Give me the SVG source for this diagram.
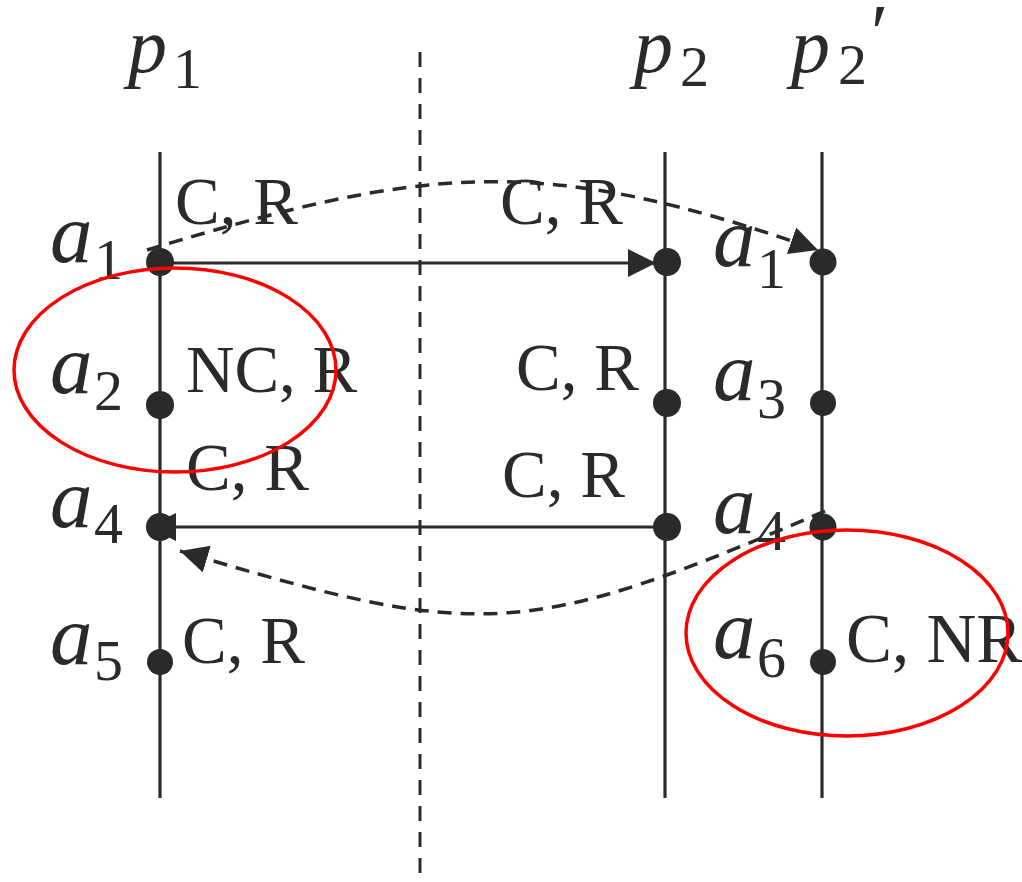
<svg xmlns="http://www.w3.org/2000/svg" width="1022" height="882" viewBox="0 0 1022 882">
<style>
.ln{stroke:#2a2a2a;stroke-width:3.2;fill:none}
.dl{stroke:#2a2a2a;stroke-width:3.5;fill:none;stroke-dasharray:14 9}
.dot{fill:#2a2a2a}
.red{fill:none;stroke:#ff0000;stroke-width:3.5}
.it{font-family:"Liberation Serif",serif;font-style:italic;font-size:85px;fill:#2a2a2a}
.pp{font-family:"Liberation Serif",serif;font-style:italic;font-size:78px;fill:#2a2a2a}
.pr{font-family:"Liberation Serif",serif;font-style:italic;font-size:80px;fill:#2a2a2a}
.sub{font-family:"Liberation Serif",serif;font-size:58px;fill:#2a2a2a}
.lb{font-family:"Liberation Serif",serif;font-size:67px;fill:#2a2a2a}
</style>
<defs>
<marker id="ah" viewBox="0 0 28 28" markerWidth="28" markerHeight="28" refX="28" refY="14" orient="auto" markerUnits="userSpaceOnUse">
<path d="M0,0 L28,14 L0,28 z" fill="#2a2a2a"/>
</marker>
</defs>
<g id="timelines">
<line class="ln" x1="160" y1="152" x2="160" y2="798"/>
<line class="ln" x1="665" y1="152" x2="665" y2="798"/>
<line class="ln" x1="822" y1="152" x2="822" y2="798"/>
<line x1="420" y1="52" x2="420" y2="882" stroke="#2a2a2a" stroke-width="3" stroke-dasharray="15 11"/>
</g>
<g id="connectors">
<line class="ln" x1="160" y1="263" x2="656" y2="263" marker-end="url(#ah)"/>
<line class="ln" x1="665" y1="527" x2="148" y2="527" marker-end="url(#ah)"/>
<path class="dl" d="M147,250 C426,166 539,152 818,250" marker-end="url(#ah)"/>
<path class="dl" d="M825,511 C525,640 480,641 180,551" marker-end="url(#ah)"/>
</g>
<g id="p1-events">
<circle class="dot" cx="160" cy="262" r="14"/>
<circle class="dot" cx="160" cy="405" r="14"/>
<circle class="dot" cx="160" cy="527" r="14"/>
<circle class="dot" cx="160" cy="662" r="13"/>
</g>
<g id="p2-events">
<circle class="dot" cx="667" cy="262" r="14"/>
<circle class="dot" cx="667" cy="403" r="14"/>
<circle class="dot" cx="667" cy="527" r="14"/>
</g>
<g id="p2prime-events">
<circle class="dot" cx="823" cy="262" r="13.5"/>
<circle class="dot" cx="823" cy="403" r="13"/>
<circle class="dot" cx="823" cy="527" r="13.5"/>
<circle class="dot" cx="823" cy="662" r="13"/>
</g>
<g id="process-labels">
<text class="pp" x="128" y="72">p</text><text class="sub" x="173" y="88">1</text>
<text class="pp" x="634" y="72">p</text><text class="sub" x="680" y="86">2</text>
<text class="pp" x="791" y="72">p</text><text class="sub" x="838" y="84">2</text>
<text class="pr" x="866" y="60">′</text>
</g>
<g id="event-labels">
<text class="it" x="50" y="262">a</text><text class="sub" x="94" y="279">1</text>
<text class="it" x="50" y="393">a</text><text class="sub" x="94" y="410">2</text>
<text class="it" x="50" y="527">a</text><text class="sub" x="94" y="543">4</text>
<text class="it" x="50" y="664">a</text><text class="sub" x="94" y="680">5</text>
<text class="it" x="713" y="266">a</text><text class="sub" x="757" y="288">1</text>
<text class="it" x="713" y="400">a</text><text class="sub" x="757" y="418">3</text>
<text class="it" x="713" y="533">a</text><text class="sub" x="757" y="550">4</text>
<text class="it" x="713" y="658">a</text><text class="sub" x="757" y="677">6</text>
</g>
<g id="state-labels">
<text class="lb" x="175" y="224">C, R</text>
<text class="lb" x="500" y="224">C, R</text>
<text class="lb" x="186" y="392">NC, R</text>
<text class="lb" x="516" y="390">C, R</text>
<text class="lb" x="186" y="490">C, R</text>
<text class="lb" x="502" y="497">C, R</text>
<text class="lb" x="182" y="663">C, R</text>
<text class="lb" x="846" y="662" style="font-size:69px">C, NR</text>
</g>
<g id="highlights">
<ellipse class="red" cx="175" cy="370" rx="161" ry="102"/>
<ellipse class="red" cx="847" cy="633" rx="161" ry="103"/>
</g>
</svg>
